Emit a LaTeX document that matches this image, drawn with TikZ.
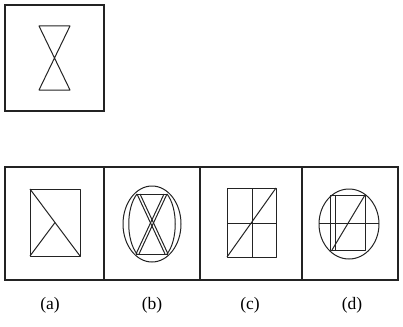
\documentclass[tikz,border=0pt]{standalone}
\usepackage{fontspec}
\setmainfont{Liberation Serif}
\definecolor{figgray}{RGB}{35,35,35}
\usetikzlibrary{positioning}

\begin{document}
\begin{tikzpicture}[x=1pt, y=-1pt,
    panel/.style={draw=figgray, line width=1.1pt},
    stroke/.style={draw=figgray, line width=1pt, line join=round},
    optlabel/.style={font=\fontsize{17.5}{20}\selectfont, inner sep=0pt}
]
    \useasboundingbox (0,0) rectangle (403,326);

    % Question figure
    \draw[panel] (5,5) rectangle (104,111);
    \draw[stroke] (39,26) -- (70,26) -- (39,90) -- (70,90) -- cycle;

    % Option panels
    \draw[panel] (5,167) rectangle (398,280);
    \draw[panel] (104,167) -- (104,280);
    \draw[panel] (200,167) -- (200,280);
    \draw[panel] (302,167) -- (302,280);

    % (a)
    \draw[stroke] (30,189) rectangle (80,256);
    \draw[stroke] (30,189) -- (80,256);
    \draw[stroke] (30,256) -- (55,222.5);

    % (b)
    \draw[stroke] (152,224) ellipse [x radius=29, y radius=38];
    \draw[stroke] (136,194) -- (168,194);
    \draw[stroke] (136,254) -- (168,254);
    \draw[stroke] (137,194) -- (165,254);
    \draw[stroke] (140,194) -- (168,254);
    \draw[stroke] (167,194) -- (139,254);
    \draw[stroke] (164,194) -- (136,254);
    \draw[stroke] (137,194) .. controls (126,208) and (126,240) .. (137,254);
    \draw[stroke] (167,194) .. controls (178,208) and (178,240) .. (167,254);

    % (c)
    \draw[stroke] (227,188) rectangle (276,257);
    \draw[stroke] (252,188) -- (252,257);
    \draw[stroke] (227,223) -- (276,223);
    \draw[stroke] (227,257) -- (276,188);

    % (d)
    \draw[stroke] (349,224) ellipse [x radius=30, y radius=35];
    \draw[stroke] (330,195) rectangle (365,250);
    \draw[stroke] (335,195) -- (335,250);
    \draw[stroke] (319,223) -- (379,223);
    \draw[stroke] (332,250) -- (365,195);

    % Labels
    \node[optlabel] (la) at (50,305) {(a)};
    \node[optlabel] (lb) at (152,305) {(b)};
    \node[optlabel] (lc) at (250,305) {(c)};
    \node[optlabel] (ld) at (352,305) {(d)};
\end{tikzpicture}
\end{document}
